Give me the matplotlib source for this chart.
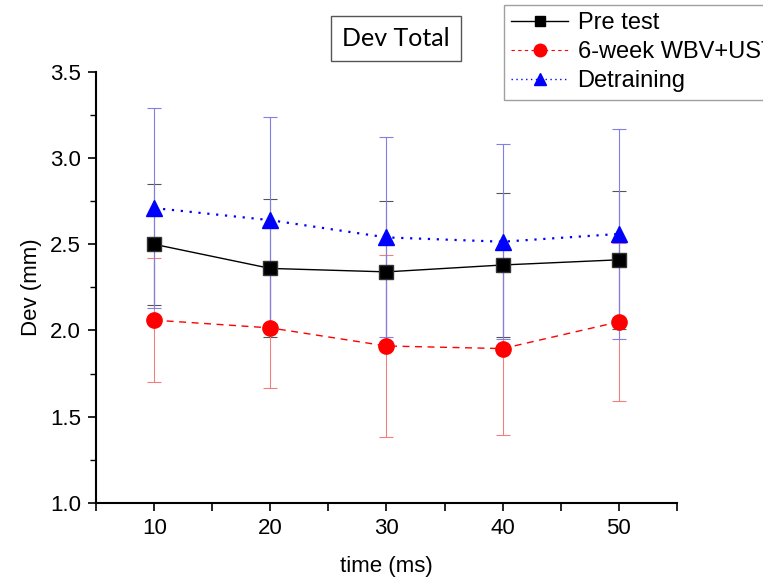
import matplotlib
matplotlib.use("Agg")
import matplotlib.pyplot as plt
from matplotlib.ticker import MultipleLocator, FormatStrFormatter
from matplotlib.lines import Line2D

time_ms = [10, 20, 30, 40, 50]
pre_mean = [2.50, 2.36, 2.34, 2.38, 2.41]
pre_sd = [0.35, 0.40, 0.41, 0.42, 0.40]
wbv_mean = [2.06, 2.015, 1.91, 1.895, 2.05]
wbv_sd = [0.36, 0.35, 0.53, 0.50, 0.46]
det_mean = [2.71, 2.64, 2.54, 2.515, 2.56]
det_sd = [0.58, 0.60, 0.58, 0.565, 0.61]
labels = ["Pre test", "6-week WBV+UST", "Detraining"]

plt.rcParams['font.family'] = ['Liberation Sans', 'DejaVu Sans']

fig = plt.figure(figsize=(7.63, 5.80), dpi=100)
ax = fig.add_axes([0.126, 0.133, 0.761, 0.743])

ax.errorbar(time_ms, pre_mean, yerr=pre_sd, fmt='none', ecolor='#555555',
            elinewidth=0.8, capsize=5, capthick=0.8, zorder=2)
ax.errorbar(time_ms, wbv_mean, yerr=wbv_sd, fmt='none', ecolor='#f08080',
            elinewidth=0.8, capsize=5, capthick=0.8, zorder=2)
ax.errorbar(time_ms, det_mean, yerr=det_sd, fmt='none', ecolor='#7f7fe6',
            elinewidth=0.8, capsize=5, capthick=0.8, zorder=2.5)

ax.plot(time_ms, pre_mean, color='black', ls='-', lw=1.0, marker='s',
        ms=10, mfc='black', mec='#333333', zorder=4)
ax.plot(time_ms, wbv_mean, color='red', ls=(0, (5, 4)), lw=1.0, marker='o',
        ms=11, mfc='red', mec='red', zorder=4)
ax.plot(time_ms, det_mean, color='blue', ls=(0, (1, 3)), lw=1.6, marker='^',
        ms=11, mfc='blue', mec='blue', zorder=4)

ax.set_xlim(5, 55)
ax.set_ylim(1.0, 3.5)
ax.xaxis.set_major_locator(MultipleLocator(10))
ax.xaxis.set_minor_locator(MultipleLocator(5))
ax.yaxis.set_major_locator(MultipleLocator(0.5))
ax.yaxis.set_minor_locator(MultipleLocator(0.25))
ax.yaxis.set_major_formatter(FormatStrFormatter('%.1f'))

for s in ['top', 'right']:
    ax.spines[s].set_visible(False)
for s in ['left', 'bottom']:
    ax.spines[s].set_linewidth(1.5)
ax.tick_params(axis='both', which='major', direction='out', length=6,
               width=1.2, labelsize=16, pad=5)
ax.tick_params(axis='y', which='minor', direction='out', length=4, width=1.0)
ax.tick_params(axis='x', which='minor', direction='out', length=6, width=1.2)

ax.set_xlabel('time (ms)', fontsize=16, labelpad=12)
ax.set_ylabel('Dev (mm)', fontsize=16, labelpad=6)

fig.text(0.519, 0.934, 'Dev Total', fontsize=18, family=['Lato', 'DejaVu Sans'],
         ha='center', va='center',
         bbox=dict(boxstyle='square,pad=0.45', fc='white', ec='#555555', lw=1.0))

handles = [
    Line2D([], [], color='black', ls='-', lw=1.0, marker='s', ms=7, mfc='black', mec='black'),
    Line2D([], [], color='red', ls=(0, (3, 3)), lw=0.8, marker='o', ms=9, mfc='red', mec='red'),
    Line2D([], [], color='blue', ls=(0, (1, 2.5)), lw=1.0, marker='^', ms=9, mfc='blue', mec='blue'),
]
leg = fig.legend(handles, labels, loc='upper left', bbox_to_anchor=(0.661, 0.991),
                 fontsize=17, frameon=True, fancybox=False, edgecolor='#888888',
                 handlelength=2.4, handletextpad=0.4, labelspacing=0.3,
                 borderpad=0.3, borderaxespad=0)
leg.get_frame().set_linewidth(1.0)

fig.savefig('out.png', dpi=100)
